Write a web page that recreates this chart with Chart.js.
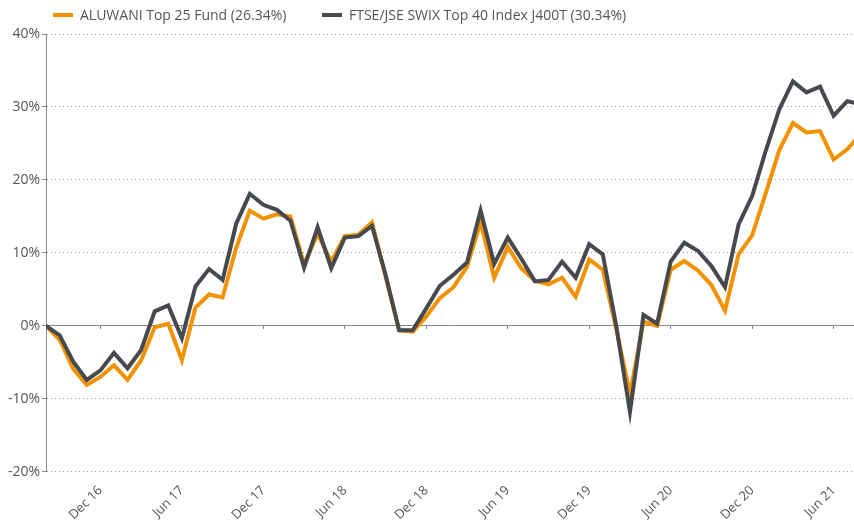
<!DOCTYPE html>
<html lang="en">
<head>
    <meta charset="UTF-8">
    <script src="https://cdn.jsdelivr.net/npm/chart.js"></script>
    <style>
        body {
            margin: 0;
            padding: 0;
            background: #fff;
            font-family: 'Open Sans', sans-serif;
        }
        .wrap {
            position: relative;
            width: 854px;
            height: 522px;
            overflow: hidden;
        }
        .legend-item {
            position: absolute;
            top: 5px;
            font-size: 14px;
            color: #555;
            line-height: 20px;
            white-space: nowrap;
        }
        .legend-item .swatch {
            display: inline-block;
            width: 20px;
            height: 4px;
            margin-right: 7px;
            vertical-align: middle;
            position: relative;
            top: -1px;
        }
    </style>
</head>
<body>
    <div class="wrap">
        <div class="legend-item" style="left: 53px;"><span class="swatch" style="background:#f39200;"></span>ALUWANI Top 25 Fund (26.34%)</div>
        <div class="legend-item" style="left: 322px;"><span class="swatch" style="background:#464a4e;"></span>FTSE/JSE SWIX Top 40 Index J400T (30.34%)</div>
        <canvas id="perfChart" width="854" height="522"></canvas>
    </div>
    <script>
        // monthly points, cumulative return in %
        const months = [
            'Aug 16', 'Sep 16', 'Oct 16', 'Nov 16', 'Dec 16',
            'Jan 17', 'Feb 17', 'Mar 17', 'Apr 17', 'May 17', 'Jun 17', 'Jul 17', 'Aug 17', 'Sep 17', 'Oct 17', 'Nov 17', 'Dec 17',
            'Jan 18', 'Feb 18', 'Mar 18', 'Apr 18', 'May 18', 'Jun 18', 'Jul 18', 'Aug 18', 'Sep 18', 'Oct 18', 'Nov 18', 'Dec 18',
            'Jan 19', 'Feb 19', 'Mar 19', 'Apr 19', 'May 19', 'Jun 19', 'Jul 19', 'Aug 19', 'Sep 19', 'Oct 19', 'Nov 19', 'Dec 19',
            'Jan 20', 'Feb 20', 'Mar 20', 'Apr 20', 'May 20', 'Jun 20', 'Jul 20', 'Aug 20', 'Sep 20', 'Oct 20', 'Nov 20', 'Dec 20',
            'Jan 21', 'Feb 21', 'Mar 21', 'Apr 21', 'May 21', 'Jun 21', 'Jul 21', 'Aug 21'
        ];

        const aluwani = [
            0, -1.9, -5.9, -8.1, -7.0,
            -5.4, -7.4, -4.7, -0.2, 0.3, -4.7, 2.5, 4.3, 3.9, 10.7, 15.8, 14.7,
            15.3, 15.0, 8.4, 12.6, 8.8, 12.3, 12.5, 14.2, 6.8, -0.6, -0.8, 1.3,
            3.8, 5.3, 8.1, 14.2, 6.6, 10.8, 7.9, 6.2, 5.7, 6.6, 4.0, 9.1,
            7.7, -0.5, -9.3, 0.6, 0.0, 7.7, 8.9, 7.6, 5.6, 2.1, 9.8, 12.4,
            18.2, 24.1, 27.8, 26.5, 26.7, 22.8, 24.2, 26.34
        ];

        const swix = [
            0, -1.3, -4.9, -7.4, -6.1,
            -3.7, -5.8, -3.3, 2.0, 2.8, -1.7, 5.4, 7.8, 6.3, 14.0, 18.1, 16.6,
            15.9, 14.4, 8.0, 13.5, 7.9, 12.1, 12.3, 13.7, 7.0, -0.6, -0.6, 2.4,
            5.5, 7.0, 8.7, 15.8, 8.5, 12.1, 9.2, 6.1, 6.3, 8.8, 6.6, 11.2,
            9.8, -0.1, -11.8, 1.5, 0.3, 8.8, 11.4, 10.3, 8.2, 5.3, 13.9, 17.8,
            24.0, 29.7, 33.5, 32.0, 32.8, 28.8, 30.8, 30.34
        ];

        // which months get an axis label
        const tickLabels = ['Dec 16', 'Jun 17', 'Dec 17', 'Jun 18', 'Dec 18', 'Jun 19', 'Dec 19', 'Jun 20', 'Dec 20', 'Jun 21'];
        const yTicks = [-20, -10, 0, 10, 20, 30, 40];

        const toPoints = (arr) => arr.map((v, i) => ({ x: i, y: v }));
        const tickIdx = tickLabels.map(l => months.indexOf(l));

        const setMonthTicks = (scale) => {
            scale.ticks = tickIdx.map(v => ({ value: v }));
        };

        const ctx = document.getElementById('perfChart').getContext('2d');

        new Chart(ctx, {
            type: 'line',
            data: {
                datasets: [
                    {
                        label: 'ALUWANI Top 25 Fund (26.34%)',
                        data: toPoints(aluwani),
                        borderColor: '#f39200',
                        backgroundColor: '#f39200',
                        borderWidth: 4,
                        pointRadius: 0,
                        tension: 0,
                        order: 1
                    },
                    {
                        label: 'FTSE/JSE SWIX Top 40 Index J400T (30.34%)',
                        data: toPoints(swix),
                        borderColor: '#464a4e',
                        backgroundColor: '#464a4e',
                        borderWidth: 4,
                        pointRadius: 0,
                        tension: 0,
                        order: 0
                    }
                ]
            },
            options: {
                responsive: false,
                animation: false,
                layout: {
                    padding: { top: 34, left: 6, right: 0, bottom: -4 }
                },
                scales: {
                    x: {
                        type: 'linear',
                        min: 0,
                        max: 59.5,
                        afterBuildTicks: setMonthTicks,
                        grid: { display: false },
                        border: { display: false },
                        ticks: {
                            autoSkip: false,
                            maxRotation: 45,
                            minRotation: 45,
                            padding: 3,
                            color: '#555',
                            font: { family: 'Open Sans', size: 13 },
                            callback: (v) => months[v]
                        }
                    },
                    xZero: {
                        type: 'linear',
                        axis: 'x',
                        position: { y: 0 },
                        min: 0,
                        max: 59.5,
                        afterBuildTicks: setMonthTicks,
                        grid: { drawOnChartArea: false, drawTicks: true, tickLength: 3, color: '#888' },
                        border: { display: false },
                        ticks: { display: false }
                    },
                    y: {
                        min: -20,
                        max: 40,
                        afterBuildTicks: (scale) => {
                            scale.ticks = yTicks.map(v => ({ value: v }));
                        },
                        grid: {
                            color: (c) => (c.tick && c.tick.value === 0) ? '#888' : '#999',
                            lineWidth: 1,
                            tickLength: 4,
                            tickColor: '#888'
                        },
                        border: {
                            display: true,
                            color: '#888',
                            dash: (c) => (c.type === 'tick' && c.tick.value !== 0) ? [1, 3] : []
                        },
                        ticks: {
                            padding: 2,
                            color: '#555',
                            font: { family: 'Open Sans', size: 14 },
                            callback: (v) => v + '%'
                        }
                    }
                },
                plugins: {
                    legend: { display: false },
                    tooltip: { enabled: false }
                }
            }
        });
    </script>
</body>
</html>
